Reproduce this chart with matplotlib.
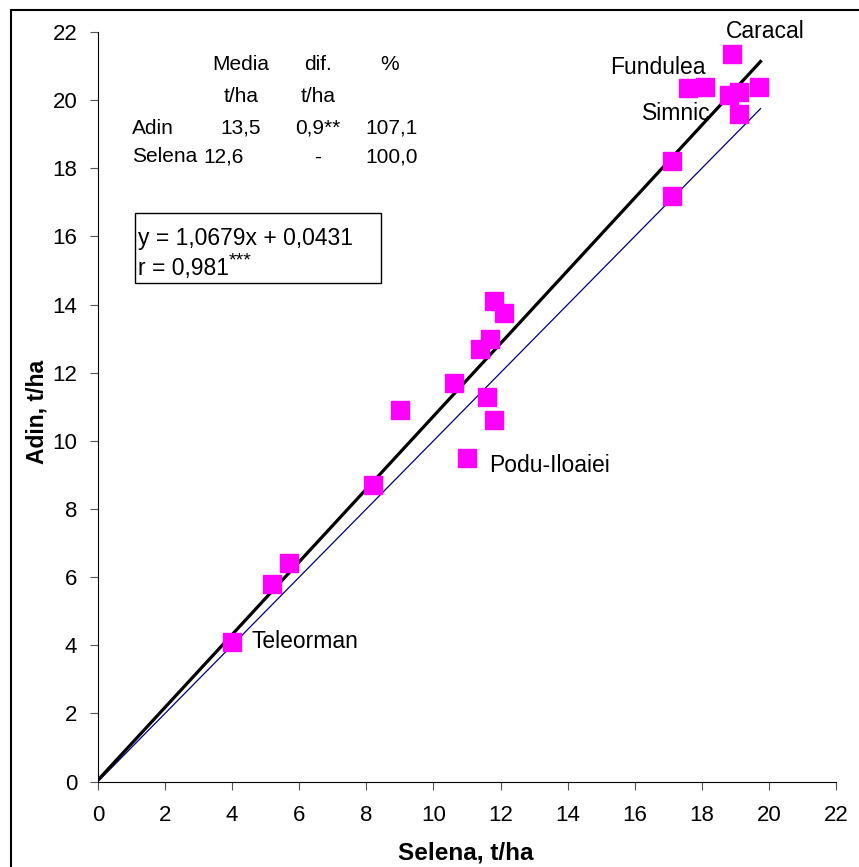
import matplotlib.pyplot as plt
import numpy as np
from matplotlib.patches import Rectangle

# date (Selena vs Adin, t/ha)
selena = [4.0, 5.2, 5.7, 8.2, 9.0, 10.6, 11.0, 11.4, 11.7, 11.6, 11.8, 11.8, 12.1,
          18.9, 17.6, 18.1, 18.8, 19.1, 19.7, 19.1, 17.1, 17.1]
adin = [4.1, 5.8, 6.4, 8.7, 10.9, 11.7, 9.5, 12.7, 13.0, 11.3, 10.6, 14.1, 13.75,
        21.35, 20.35, 20.4, 20.15, 20.25, 20.4, 19.6, 18.2, 17.2]

slope = 1.0679
intercept = 0.0431
x_end = 19.75

tabel = [
    ('', 'Media', 'dif.', '%'),
    ('', 't/ha', 't/ha', ''),
    ('Adin', '13,5', '0,9**', '107,1'),
    ('Selena', '12,6', '-', '100,0'),
]

W, H = 859, 867
plt.rcParams['font.family'] = ['Liberation Sans', 'DejaVu Sans']

fig = plt.figure(figsize=(W / 100, H / 100), dpi=100)


def px(x, y):
    return x / W, 1 - y / H


ax = fig.add_axes([98 / W, 1 - 781.5 / H, (836 - 98) / W, (781.5 - 32) / H])

# dreapta y = x si dreapta de regresie
xl = np.array([0, x_end])
ax.plot(xl, xl, color='#000080', lw=0.9, zorder=2)
ax.plot(xl, slope * xl + intercept, color='black', lw=2.3, zorder=3)

ax.plot(selena, adin, 's', color='#FF00FF', mec='#FF00FF', ms=13, zorder=4)

ax.set_xlim(0, 22)
ax.set_ylim(0, 22)
ax.set_xticks(np.arange(0, 23, 2))
ax.set_yticks(np.arange(0, 23, 2))
ax.spines['top'].set_visible(False)
ax.spines['right'].set_visible(False)
ax.tick_params(direction='out', length=6, labelsize=16, color='#555555')
ax.tick_params(axis='x', pad=11)
ax.tick_params(axis='y', pad=9)
ax.patch.set_alpha(0)

fig.text(*px(466, 853), 'Selena, t/ha', ha='center', va='center',
         fontsize=17.5, fontweight='bold')
fig.text(*px(37, 412), 'Adin, t/ha', ha='center', va='center',
         fontsize=16.5, fontweight='bold', rotation=90)

# etichete localitati
etich = [
    ('Caracal', 726, 31),
    ('Fundulea', 610, 68),
    ('Simnic', 642, 114),
    ('Podu-Iloaiei', 489, 466),
    ('Teleorman', 252, 642),
]
for t, x, y in etich:
    fig.text(*px(x, y), t, ha='left', va='center', fontsize=16.5)

# tabel medii
col_x = [132, 241, 318, 418]
col_ha = ['left', 'center', 'center', 'right']
row_y = [65, 97, 128, 157]
for r, row in enumerate(tabel):
    for c, val in enumerate(row):
        x = col_x[c]
        ha = col_ha[c]
        if r == 0 and c == 3:
            x, ha = 390, 'center'
        if r == 3 and c == 1:
            x, ha = 203, 'left'
        fig.text(*px(x, row_y[r]), val, ha=ha, va='center', fontsize=15)

# caseta ecuatie
fig.patches.append(Rectangle(px(135, 283), (381 - 135) / W, (283 - 213) / H,
                             transform=fig.transFigure, fill=False, lw=1.0,
                             ec='black'))
fig.text(*px(138, 238), 'y = 1,0679x + 0,0431', ha='left', va='center', fontsize=16.5)
fig.text(*px(138, 268), 'r = 0,981', ha='left', va='center', fontsize=16.5)
fig.text(*px(229, 261), '***', ha='left', va='center', fontsize=14)

# chenar figura
fig.patches.append(Rectangle(px(11, 900), 2, (900 - 10) / H,
                             transform=fig.transFigure, fill=False, lw=1.5,
                             ec='black'))

fig.savefig('out.png', dpi=100)
